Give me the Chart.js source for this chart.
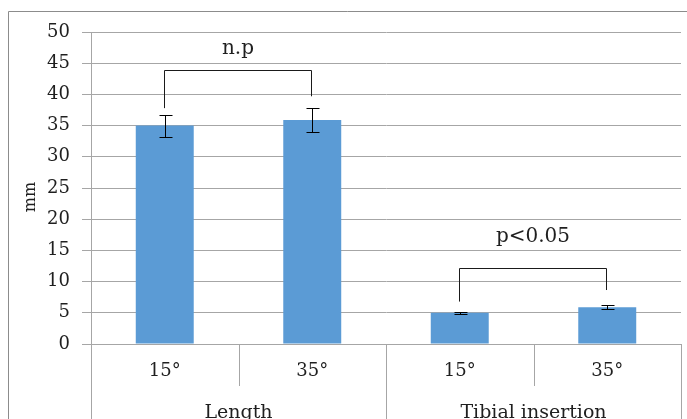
<!DOCTYPE html>
<html>
<head>
<meta charset="utf-8">
<script src="https://cdn.jsdelivr.net/npm/chart.js@4"></script>
<style>
  html, body { margin: 0; padding: 0; background: #fff; }
  #wrap { width: 687px; height: 419px; }
</style>
</head>
<body>
<div id="wrap"><canvas id="graphCanvas" width="687" height="419"></canvas></div>
<script>
// data
const categories = ['15°', '35°', '15°', '35°'];
const groups = ['Length', 'Tibial insertion'];
const means = [35.0, 35.9, 5.0, 5.9];
const sds = [1.75, 1.85, 0.2, 0.35];
const yTicks = [0, 5, 10, 15, 20, 25, 30, 35, 40, 45, 50];

// significance brackets, heights in mm
const brackets = [
    { from: 0, to: 1, top: 43.9, legFrom: 37.8, legTo: 39.7, label: 'n.p', labelAt: 47.3 },
    { from: 2, to: 3, top: 12.2, legFrom: 6.8, legTo: 8.65, label: 'p<0.05', labelAt: 17.1 }
];

const serif = '"DejaVu Serif", "Liberation Serif", serif';
const textColor = '#1f1f1f';
const gridColor = '#a6a6a6';

const extras = {
    id: 'extras',
    beforeDraw(chart) {
        const ctx = chart.ctx;
        // outer frame
        ctx.save();
        ctx.strokeStyle = '#8c8c8c';
        ctx.lineWidth = 1;
        ctx.beginPath();
        ctx.moveTo(8.5, 419);
        ctx.lineTo(8.5, 11.5);
        ctx.lineTo(687, 11.5);
        ctx.stroke();
        ctx.restore();
    },
    afterDraw(chart) {
        const ctx = chart.ctx;
        const x = chart.scales.x;
        const y = chart.scales.y;
        const area = chart.chartArea;
        ctx.save();

        // category separators below the axis
        ctx.strokeStyle = gridColor;
        ctx.lineWidth = 1;
        const step = (area.right - area.left) / categories.length;
        for (let i = 0; i <= categories.length; i++) {
            const px = Math.round(area.left + step * i) + 0.5;
            const groupEdge = (i % 2 === 0);
            ctx.beginPath();
            ctx.moveTo(px, area.bottom);
            ctx.lineTo(px, groupEdge ? 419 : area.bottom + 42);
            ctx.stroke();
        }

        // group labels
        ctx.fillStyle = textColor;
        ctx.font = '19px ' + serif;
        ctx.textAlign = 'center';
        ctx.textBaseline = 'alphabetic';
        groups.forEach(function (g, i) {
            const cx = (x.getPixelForValue(i * 2) + x.getPixelForValue(i * 2 + 1)) / 2;
            ctx.fillText(g, cx, 418);
        });

        // y title
        ctx.save();
        ctx.translate(31, 197);
        ctx.rotate(-Math.PI / 2);
        ctx.textBaseline = 'middle';
        ctx.font = '16px ' + serif;
        ctx.fillText('mm', 0, 0);
        ctx.restore();

        // error bars
        ctx.strokeStyle = '#000';
        ctx.lineWidth = 1;
        for (let i = 0; i < means.length; i++) {
            const cx = Math.round(x.getPixelForValue(i)) + 0.5;
            const hi = Math.round(y.getPixelForValue(means[i] + sds[i])) + 0.5;
            const lo = Math.round(y.getPixelForValue(means[i] - sds[i])) + 0.5;
            ctx.beginPath();
            ctx.moveTo(cx, hi); ctx.lineTo(cx, lo);
            ctx.moveTo(cx - 6, hi); ctx.lineTo(cx + 7, hi);
            ctx.moveTo(cx - 6, lo); ctx.lineTo(cx + 7, lo);
            ctx.stroke();
        }

        // brackets
        ctx.strokeStyle = '#1a1a1a';
        brackets.forEach(function (b) {
            const x1 = Math.round(x.getPixelForValue(b.from)) - 0.5;
            const x2 = Math.round(x.getPixelForValue(b.to)) - 0.5;
            const yt = Math.round(y.getPixelForValue(b.top)) + 0.5;
            ctx.beginPath();
            ctx.moveTo(x1, y.getPixelForValue(b.legFrom));
            ctx.lineTo(x1, yt);
            ctx.lineTo(x2, yt);
            ctx.lineTo(x2, y.getPixelForValue(b.legTo));
            ctx.stroke();
            ctx.font = '20px ' + serif;
            ctx.textBaseline = 'middle';
            ctx.fillText(b.label, (x1 + x2) / 2, y.getPixelForValue(b.labelAt));
        });
        ctx.restore();
    }
};

const ctx = document.getElementById('graphCanvas').getContext('2d');
const myChart = new Chart(ctx, {
    type: 'bar',
    data: {
        labels: categories,
        datasets: [{
            data: means,
            backgroundColor: '#5b9bd5',
            borderWidth: 0,
            categoryPercentage: 1,
            barPercentage: 0.393
        }]
    },
    options: {
        responsive: false,
        animation: false,
        events: [],
        layout: { padding: { top: 32, right: 6, left: 0, bottom: 0 } },
        plugins: {
            legend: { display: false },
            tooltip: { enabled: false }
        },
        scales: {
            x: {
                grid: { display: false, drawTicks: false },
                border: { color: gridColor, width: 1 },
                ticks: {
                    color: textColor,
                    font: { family: serif, size: 18 },
                    padding: 17,
                    maxRotation: 0
                },
                afterFit: function (s) { s.height = 75; }
            },
            y: {
                min: 0,
                max: 50,
                afterBuildTicks: function (s) { s.ticks = yTicks.map(function (v) { return { value: v }; }); },
                grid: { color: gridColor, lineWidth: 1, tickLength: 9 },
                border: { color: gridColor, width: 1 },
                ticks: {
                    color: textColor,
                    font: { family: serif, size: 18 },
                    padding: 12
                },
                afterFit: function (s) { s.width = 91; }
            }
        }
    },
    plugins: [extras]
});
</script>
</body>
</html>
